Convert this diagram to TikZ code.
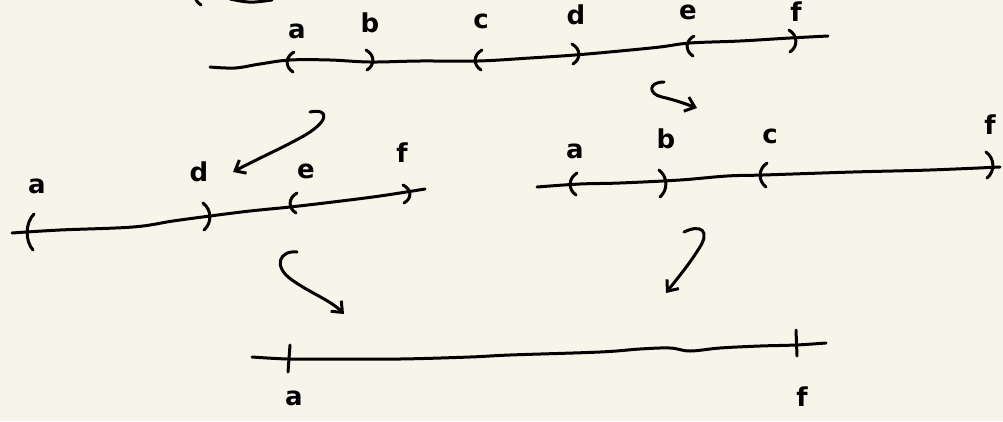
\documentclass[tikz,border=0pt]{standalone}
\usepackage{fontspec}
\newfontfamily\handfont{DejaVu Sans}
\usetikzlibrary{arrows.meta}
\definecolor{paper}{HTML}{F7F5EA}
\newcommand{\myopen}[3]{\draw ({#1+4},#2) .. controls ({#1-5},{#2+0.25*(#3-#2)}) and ({#1-5},{#2+0.75*(#3-#2)}) .. ({#1+3},#3);}
\newcommand{\myclose}[3]{\draw ({#1-4},#2) .. controls ({#1+5},{#2+0.25*(#3-#2)}) and ({#1+5},{#2+0.75*(#3-#2)}) .. ({#1-3},#3);}
\tikzset{
  ink/.style={line width=3pt, line cap=round, line join=round, black},
  lab/.style={font=\handfont\bfseries\fontsize{26}{26}\selectfont, inner sep=0pt, text=black},
  arr/.style={ink, -{Straight Barb[length=9pt,width=15pt]}}
}
\begin{document}
\begin{tikzpicture}[x=1pt,y=-1pt]
\useasboundingbox (0,0) rectangle (1003,421);
\fill[paper] (0,0) rectangle (1003,421);
\begin{scope}[ink]
% partial strokes at top-left edge
\draw (195,-3) .. controls (197,2) .. (201,5);
\draw (230,-1) .. controls (250,3) .. (272,0);

% ---------- top line ----------
\draw plot[smooth,tension=0.6] coordinates {(210,67) (235,68) (260,64) (290,60) (330,60) (370,62) (420,61) (478,61) (530,58) (575,55) (620,51) (660,47) (690,43) (740,41) (790,38) (828,36)};
\myopen{290}{52}{72}
\myclose{370}{50}{70}
\myopen{478}{50}{70}
\myclose{576}{44}{64}
\myopen{690}{36}{56}
\myclose{793}{30}{52}

% ---------- middle left line ----------
\draw plot[smooth,tension=0.6] coordinates {(12,233) (60,230) (133,227) (173,221) (210,216) (250,211) (290,207) (333,202) (380,196) (425,189)};
\myopen{30}{214}{250}
\myclose{207}{203}{230}
\myopen{293}{193}{213}
\myclose{407}{185}{203}

% ---------- middle right line ----------
\draw plot[smooth,tension=0.6] coordinates {(537,187) (580,184) (620,183) (680,180) (727,176) (763,175) (853,172) (930,170) (1000,167)};
\myopen{573}{173}{195}
\myclose{663}{170}{197}
\myopen{763}{163}{187}
\myclose{990}{152}{178}

% ---------- bottom line ----------
\draw plot[smooth,tension=0.6] coordinates {(252,357) (288,359) (330,359) (400,359) (470,357) (510,355) (600,352) (640,349) (670,348) (690,351) (720,348) (760,346) (796,345) (826,343)};
\draw (290,345) -- (288,372);
\draw (796,330) -- (797,356);
\end{scope}

% ---------- labels ----------
\node[lab] (ta) at (297,31) {a};
\node[lab] (tb) at (370,23) {b};
\node[lab] (tc) at (481,21) {c};
\node[lab] (td) at (576,15) {d};
\node[lab] (te) at (688,12) {e};
\node[lab] (tf) at (796,12) {f};

\node[lab] (la) at (37,186) {a};
\node[lab] (ld) at (199,172) {d};
\node[lab] (le) at (306,171) {e};
\node[lab] (lf) at (402,153) {f};

\node[lab] (ra) at (575,151) {a};
\node[lab] (rb) at (666,139) {b};
\node[lab] (rc) at (770,136) {c};
\node[lab] (rf) at (990,125) {f};

\node[lab] (ba) at (294,398) {a};
\node[lab] (bf) at (802,397) {f};

% ---------- arrows ----------
\coordinate (a1s) at (310,112);
\coordinate (a1e) at (233,172);
\draw[arr] (a1s) .. controls (330,108) and (330,122) .. (300,138) .. controls (280,149) and (255,160) .. (a1e);

\coordinate (a2s) at (664,82);
\coordinate (a2e) at (697,108);
\draw[arr] (a2s) .. controls (648,82) and (648,94) .. (662,97) .. controls (675,100) and (686,104) .. (a2e);

\coordinate (a3s) at (297,252);
\coordinate (a3e) at (344,314);
\draw[arr] (a3s) .. controls (280,250) and (272,266) .. (292,280) .. controls (312,294) and (330,300) .. (a3e);

\coordinate (a4s) at (684,232);
\coordinate (a4e) at (666,293);
\draw[arr] (a4s) .. controls (700,224) and (712,230) .. (698,250) .. controls (688,266) and (676,280) .. (a4e);
\end{tikzpicture}
\end{document}
